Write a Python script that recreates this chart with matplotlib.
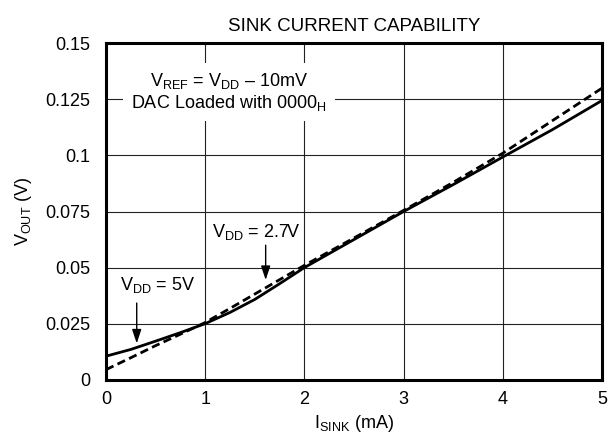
import numpy as np
import matplotlib
matplotlib.use("Agg")
import matplotlib.pyplot as plt

plt.rcParams['font.family'] = ['Liberation Sans', 'DejaVu Sans']
plt.rcParams['mathtext.fontset'] = 'custom'
plt.rcParams['mathtext.rm'] = 'Liberation Sans'
plt.rcParams['mathtext.it'] = 'Liberation Sans'

# sink current (mA)
i_sink = [0, 0.25, 0.5, 0.75, 1.0, 1.25, 1.5, 1.75, 2.0, 2.5, 3.0, 3.5, 4.0, 4.5, 5.0]
# VDD = 5V (solid)
vout_5v = [0.0105, 0.0135, 0.0172, 0.0210, 0.0250, 0.0300, 0.0358, 0.0428, 0.0500,
           0.0625, 0.0750, 0.0870, 0.0993, 0.1115, 0.1245]
# VDD = 2.7V (dashed)
vout_27v = [0.0045, 0.0098, 0.0152, 0.0203, 0.0255, 0.0318, 0.0382, 0.0446, 0.0510,
            0.0632, 0.0755, 0.0880, 0.1010, 0.1155, 0.1300]

x_ticks = [0, 1, 2, 3, 4, 5]
y_ticks = [0, 0.025, 0.05, 0.075, 0.1, 0.125, 0.15]
y_tick_labels = ['0', '0.025', '0.05', '0.075', '0.1', '0.125', '0.15']

FS = 13

fig = plt.figure(figsize=(6.08, 4.47), dpi=100)
ax = fig.add_axes([0.1743, 0.1505, 0.8157, 0.7525])

ax.plot(i_sink, vout_5v, color='black', lw=2, solid_capstyle='butt', zorder=3)
ax.plot(i_sink, vout_27v, color='black', lw=2, ls=(0, (3, 1.6)), zorder=3)

ax.set_xlim(0, 5)
ax.set_ylim(0, 0.15)
ax.set_xticks(x_ticks)
ax.set_yticks(y_ticks)
ax.set_yticklabels(y_tick_labels)
ax.tick_params(length=0, labelsize=FS)
ax.tick_params(axis='y', pad=11)
ax.tick_params(axis='x', pad=8)
ax.grid(True, color='#222222', lw=0.8)
for s in ax.spines.values():
    s.set_linewidth(2.2)
    s.set_zorder(4)

ax.set_title('SINK CURRENT CAPABILITY', fontsize=13.5, pad=9)
ax.set_xlabel(r'I$_{\mathrm{SINK}}$ (mA)', fontsize=FS, labelpad=4)
ax.set_ylabel(r'V$_{\mathrm{OUT}}$ (V)', fontsize=FS, labelpad=8)

ax.text(1.24, 0.1283, 'V$_{\\mathrm{REF}}$ = V$_{\\mathrm{DD}}$ – 10mV\nDAC Loaded with 0000$_{\\mathrm{H}}$',
        ha='center', va='center', fontsize=FS, linespacing=1.15,
        bbox=dict(facecolor='white', edgecolor='none', pad=6), zorder=2.5)

arrow_style = dict(arrowstyle='-|>,head_length=0.6,head_width=0.2', color='black',
                   lw=1, mutation_scale=14, shrinkA=0, shrinkB=0)
ax.annotate('', xy=(1.61, 0.0445), xytext=(1.61, 0.0600), arrowprops=arrow_style)
ax.text(1.065, 0.0635, r'V$_{\mathrm{DD}}$ = 2.7V', fontsize=FS, va='baseline', ha='left')

ax.annotate('', xy=(0.31, 0.0162), xytext=(0.31, 0.0342), arrowprops=arrow_style)
ax.text(0.14, 0.0400, r'V$_{\mathrm{DD}}$ = 5V', fontsize=FS, va='baseline', ha='left')

fig.savefig('out.png', dpi=100)
